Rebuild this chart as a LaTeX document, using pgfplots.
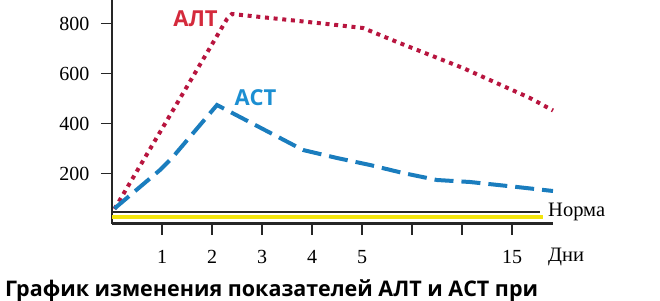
\documentclass[border=0pt]{standalone}
\usepackage{fontspec}
\setmainfont{Liberation Serif}
\newfontfamily\sansf{Open Sans}
\usepackage{pgfplots}
\pgfplotsset{compat=1.18}
\definecolor{altred}{HTML}{B8153F}
\definecolor{altlab}{HTML}{D42A3C}
\definecolor{astblue}{HTML}{1A7DBE}
\definecolor{astlab}{HTML}{1C8FD2}
\definecolor{normy}{HTML}{F2E40C}
\begin{document}
\begin{tikzpicture}[x=1pt,y=1pt]
\useasboundingbox (-112,-76.5) rectangle (548,223.5);
\clip (-112,-76.5) rectangle (548,223.5);
\begin{axis}[
  at={(0,0)}, anchor=south west,
  scale only axis, width=441pt, height=225pt,
  xmin=0, xmax=8.82, ymin=0, ymax=900,
  axis lines*=left,
  axis line style={line width=2.2pt, black!85, -},
  tick style={line width=1.8pt, black!85},
  tick align=outside, major tick length=11pt,
  xtick={1,2,3,4,5,6,7,8}, xticklabels={1,2,3,4,5,{},{},15},
  ytick={200,400,600,800}, yticklabels={200,400,600,800},
  ticklabel style={font=\fontsize{20}{20}\selectfont},
  xticklabel style={yshift=-12pt},
  yticklabel style={xshift=-8pt},
  clip=false,
]
\addplot[normy, line width=4pt] coordinates {(0,28) (8.62,28)};
\addplot[black!85, line width=2pt] coordinates {(0,46) (8.56,46)};
\addplot[altred, line width=4pt, dash pattern=on 4pt off 4.7pt] coordinates {
 (0.05,58) (2.3,818) (2.4,838) (4.4,796) (5.02,782) (5.7,726) (7.02,622) (8.36,502) (8.82,452)};
\addplot[astblue, line width=4pt, dash pattern=on 19pt off 8pt] coordinates {
 (0.05,60) (0.96,214) (1.2,262) (2.1,474) (3.82,294) (4.5,262) (5.16,234) (5.82,202) (6.5,174) (7.16,166) (8.1,146) (8.82,130)};
\node[text=altlab, font=\sansf\bfseries\fontsize{22}{22}\selectfont] at (axis cs:1.67,820) {АЛТ};
\node[text=astlab, font=\sansf\bfseries\fontsize{22}{22}\selectfont] at (axis cs:2.87,502) {АСТ};
\node[anchor=base west, inner sep=0, font=\fontsize{20.5}{20.5}\selectfont] at (axis cs:8.72,27) {Норма};
\node[anchor=base west, inner sep=0, font=\fontsize{20.5}{20.5}\selectfont] at (axis cs:8.72,-153) {Дни};
\end{axis}
\node[anchor=base west, inner sep=0, font=\sansf\bfseries\fontsize{21.5}{21.5}\selectfont] at (-107,-72.5) {График изменения показателей АЛТ и АСТ при};
\end{tikzpicture}
\end{document}
